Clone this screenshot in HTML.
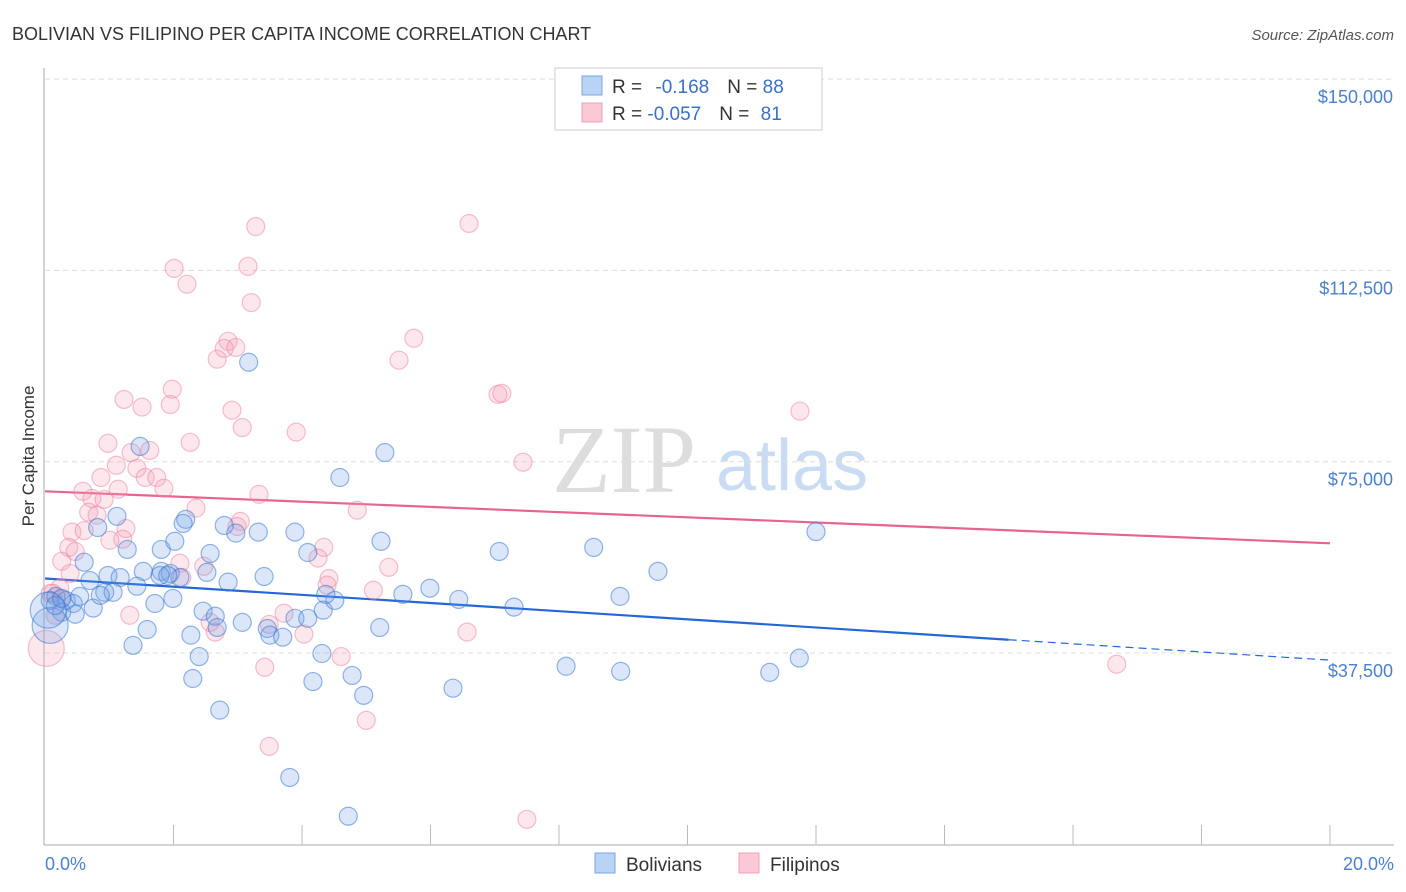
<!DOCTYPE html>
<html><head><meta charset="utf-8"><style>
body{margin:0;background:#fff;font-family:"Liberation Sans",sans-serif}
svg{display:block}
</style></head><body>
<svg id="chart" width="1406" height="892">
<text x="12" y="40" font-size="18" fill="#333">BOLIVIAN VS FILIPINO PER CAPITA INCOME CORRELATION CHART</text>
<text x="1394" y="40" font-size="15" fill="#555" font-style="italic" text-anchor="end">Source: ZipAtlas.com</text>
<g>
<text x="552" y="492" font-size="96" font-family="Liberation Serif,serif" fill="#ddd">ZIP</text>
<text x="716" y="490" font-size="72" fill="#c9dcf3">atlas</text>
</g>
<g id="grid"></g>
<g id="axes"></g>
<g id="trends"></g>
<g id="pts"></g>
<text transform="translate(34,456) rotate(-90)" font-size="17" fill="#333" text-anchor="middle">Per Capita Income</text>
<text x="45" y="870" font-size="18" fill="#4a80d0">0.0%</text>
<text x="1394" y="870" font-size="18" fill="#4a80d0" text-anchor="end">20.0%</text>
<g>
<rect x="555" y="68" width="267" height="62" fill="#fff" stroke="#ccc"/>
<rect x="582" y="76" width="20" height="19" fill="#b9d3f5" stroke="#7aa6e4"/>
<rect x="582" y="103" width="20" height="19" fill="#fbc8d6" stroke="#f0a0b8"/>
<text x="612" y="93" font-size="19" fill="#333">R = <tspan fill="#3a70c8" dx="8">-0.168</tspan><tspan dx="18" fill="#333">N = </tspan><tspan fill="#3a70c8">88</tspan></text>
<text x="612" y="120" font-size="19" fill="#333">R = <tspan fill="#3a70c8">-0.057</tspan><tspan dx="18" fill="#333">N = </tspan><tspan fill="#3a70c8" dx="6">81</tspan></text>
</g>
<g>
<rect x="595" y="853" width="20" height="20" fill="#b9d3f5" stroke="#7aa6e4"/>
<text x="626" y="871" font-size="19" fill="#333">Bolivians</text>
<rect x="739" y="853" width="20" height="20" fill="#fbc8d6" stroke="#f0a0b8"/>
<text x="770" y="871" font-size="19" fill="#333">Filipinos</text>
</g>
</svg>
<script>
const yTicks=[37500,75000,112500,150000];
const yTickLabels=["$37,500","$75,000","$112,500","$150,000"];
const bluePct=[1.48,3.17,5.29,4.59,12.00,8.54,7.07,5.23,3.89,2.79,2.97,3.32,2.19,2.15,1.12,0.82,1.28,1.81,2.02,2.57,4.09,0.61,0.70,0.98,1.17,1.53,1.81,1.95,2.10,2.52,3.41,2.85,1.43,0.93,1.06,0.17,0.33,0.44,0.75,0.26,0.47,1.71,1.99,2.46,2.65,2.68,3.07,3.46,3.50,3.70,3.89,4.09,4.33,4.51,4.37,5.57,5.99,6.44,7.30,8.95,9.54,5.21,1.59,2.27,1.37,2.40,4.31,4.78,4.17,2.30,4.96,2.72,3.81,4.72,6.35,8.11,8.96,11.28,11.74,0.08,0.08,0.05,0.26,0.54,0.86,1.79,1.91,0.16];
const blueInc=[78000,94500,76800,71900,61300,58200,57400,59400,61200,62500,61000,61200,63700,62900,64300,62100,57800,57800,59400,57000,57200,55300,51700,52700,52300,53500,53500,53100,52300,53300,52500,51400,50600,49400,49400,48600,47800,47200,46300,45500,45100,47200,48200,45700,44700,42500,43500,42300,41000,40600,44300,44300,45900,47800,49000,49000,50200,48000,46500,48600,53500,42500,42100,41000,39000,36800,37400,33100,31900,32500,29200,26300,13100,5500,30600,34900,33900,33700,36500,47800,42900,45900,48200,48600,48800,52700,52700,46800];
const pinkPct=[3.28,6.60,2.01,3.16,2.21,3.21,2.85,2.79,2.68,2.97,5.51,5.74,7.05,7.11,1.98,1.95,1.23,1.51,2.91,3.07,3.91,2.26,0.98,11.75,7.44,1.34,1.63,1.11,1.43,1.56,1.74,0.87,0.59,1.14,1.85,0.73,0.92,2.35,3.33,4.86,0.68,0.81,0.42,0.61,1.26,3.04,2.99,1.21,0.37,0.47,0.26,0.39,2.10,2.47,4.34,4.25,4.42,4.39,5.11,5.35,0.23,0.12,0.25,2.13,2.57,2.65,3.49,3.72,4.03,4.61,6.57,3.42,3.49,5.00,7.50,16.68,0.02,0.16,0.08,1.32,1.01];
const pinkInc=[121100,121700,112900,113300,109800,106200,98600,97200,95100,97400,94900,99200,88200,88400,89200,86200,87200,85700,85100,81700,80800,78800,78600,84900,74900,76800,77200,74300,73700,71900,71900,71900,69200,69600,69800,67800,67600,65900,68600,65500,65100,64500,61200,61500,61900,63300,62300,59800,58200,57400,55500,53100,55100,54500,58200,56100,52100,50800,49800,54300,50200,49200,48200,52300,43500,41600,43100,45300,41200,36800,41600,34700,19200,24300,4900,35300,38400,44900,49200,44900,59600];
const blueTrend=[52100,36100];
const pinkTrend=[69200,59000];
const blueSolidEnd=15.0;
const X=p=>45+p/20*1285;
const Y=v=>844.3-v/196.03;
const NS="http://www.w3.org/2000/svg";
function mk(t,a,parent){const e=document.createElementNS(NS,t);for(const k in a)e.setAttribute(k,a[k]);document.getElementById(parent).appendChild(e);return e;}
yTicks.forEach((v,i)=>{
 const l=mk('line',{x1:45,x2:1394,y1:Y(v),y2:Y(v),stroke:'#ddd','stroke-dasharray':'5,4'},'grid');
 
 
 const t=mk('text',{x:1393,y:Y(v)+24,'font-size':18,fill:'#4a80d0','text-anchor':'end'},'grid');
 t.textContent=yTickLabels[i];
 
 
});
let ax=mk('line',{x1:44,x2:44,y1:68,y2:845,stroke:'#aaa'},'axes');


ax=mk('line',{x1:44,x2:1394,y1:845,y2:845,stroke:'#aaa'},'axes');


for(let k=1;k<=10;k++){const tk=mk('line',{x1:X(k*2),x2:X(k*2),y1:825,y2:845,stroke:'#bbb'},'axes');
 
 }
function pts(px,py,fill,stroke,name,big){px.forEach((p,i)=>{const c=mk('circle',{cx:X(p),cy:Y(py[i]),r:(big.indexOf(i)>=0?18:9),fill:fill,stroke:stroke,'stroke-width':1.2},'pts');
 
 });}
pts(pinkPct,pinkInc,'rgba(244,160,185,0.25)','rgba(236,130,160,0.5)','filipino-point',[76]);
pts(bluePct,blueInc,'rgba(110,160,230,0.25)','rgba(60,120,210,0.55)','bolivian-point',[80,81]);
const bAt=p=>blueTrend[0]+(blueTrend[1]-blueTrend[0])*p/20;
let tl=mk('line',{x1:X(0),y1:Y(pinkTrend[0]),x2:X(20),y2:Y(pinkTrend[1]),stroke:'#e8638e','stroke-width':2.2},'trends');


tl=mk('line',{x1:X(0),y1:Y(bAt(0)),x2:X(blueSolidEnd),y2:Y(bAt(blueSolidEnd)),stroke:'#2468d8','stroke-width':2.2},'trends');


tl=mk('line',{x1:X(blueSolidEnd),y1:Y(bAt(blueSolidEnd)),x2:X(20),y2:Y(bAt(20)),stroke:'#2468d8','stroke-width':1.2,'stroke-dasharray':'8,5'},'trends');


</script>
</body></html>
